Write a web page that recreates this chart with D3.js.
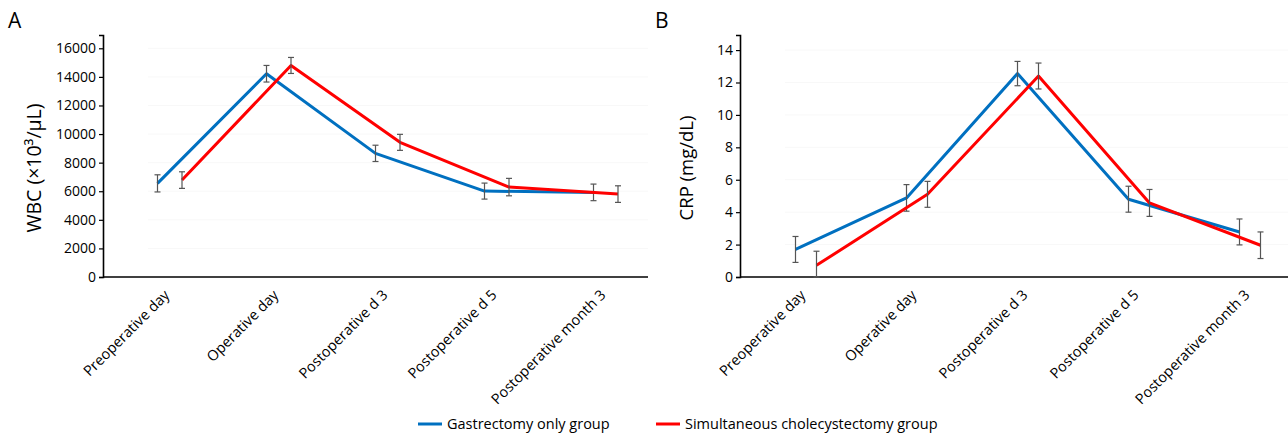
<!DOCTYPE html>
<html>
<head>
<meta charset="utf-8">
<script src="https://cdn.jsdelivr.net/npm/d3@7"></script>
<style>
  body { margin: 0; background: #fff; }
  svg text { font-family: "Open Sans", "Noto Sans", sans-serif; fill: #000; }
</style>
</head>
<body>
<div id="chart"></div>
<script>
// categories (time points)
var categories = ["Preoperative day", "Operative day", "Postoperative d 3", "Postoperative d 5", "Postoperative month 3"];
var seriesNames = ["Gastrectomy only group", "Simultaneous cholecystectomy group"];
var seriesColors = ["#0070c0", "#ff0000"];

// panel A: WBC
var wbcGastrectomy = [6550, 14220, 8650, 6010, 5920];
var wbcGastrectomyErr = [600, 580, 570, 560, 580];
var wbcCholecystectomy = [6780, 14800, 9420, 6290, 5800];
var wbcCholecystectomyErr = [580, 560, 560, 610, 580];
var wbcTicks = [0, 2000, 4000, 6000, 8000, 10000, 12000, 14000, 16000];

// panel B: CRP
var crpGastrectomy = [1.7, 4.88, 12.55, 4.8, 2.78];
var crpGastrectomyErr = [0.8, 0.82, 0.75, 0.8, 0.8];
var crpCholecystectomy = [0.72, 5.1, 12.4, 4.57, 1.96];
var crpCholecystectomyErr = [0.87, 0.8, 0.8, 0.83, 0.82];
var crpTicks = [0, 2, 4, 6, 8, 10, 12, 14];

var svg = d3.select("#chart").append("svg")
    .attr("width", 1288)
    .attr("height", 434);

function drawPanel(p) {
    var x = d3.scaleBand().domain(categories).range([p.left, p.right]);
    var y = d3.scaleLinear().domain([0, p.yMax]).range([p.bottom, p.top]);
    var g = svg.append("g");

    // faint gridlines
    g.selectAll(".grid")
      .data(p.ticks.slice(1))
      .enter().append("line")
        .attr("x1", p.left + 45)
        .attr("x2", p.right)
        .attr("y1", function(d) { return y(d); })
        .attr("y2", function(d) { return y(d); })
        .attr("stroke", "#f8f8f8")
        .attr("stroke-width", 1);

    // y axis
    var yAxis = g.append("g")
        .attr("transform", "translate(" + p.left + ",0)")
        .call(d3.axisLeft(y).tickValues(p.ticks).tickSize(4).tickPadding(3).tickFormat(d3.format("d")));
    yAxis.select(".domain").attr("stroke", "#000").attr("stroke-width", 1.6);
    yAxis.selectAll(".tick line").attr("stroke", "#000").attr("stroke-width", 1.2);
    yAxis.selectAll("text").style("font-size", "14px");

    // x axis line
    g.append("line")
        .attr("x1", p.left)
        .attr("x2", p.right)
        .attr("y1", y(0))
        .attr("y2", y(0))
        .attr("stroke", "#000")
        .attr("stroke-width", 1.6);

    // category labels
    g.selectAll(".cat")
      .data(categories)
      .enter().append("text")
        .attr("transform", function(d) {
            return "translate(" + (x(d) + x.bandwidth() / 2 + p.labelShift) + "," + (y(0) + 19) + ") rotate(-45)";
        })
        .style("text-anchor", "end")
        .style("font-size", "14.5px")
        .text(function(d) { return d; });

    // y title
    g.append("text")
        .attr("transform", "translate(" + p.titleX + "," + ((p.top + p.bottom) / 2 + 12) + ") rotate(-90)")
        .style("text-anchor", "middle")
        .style("font-size", p.titleSize)
        .text(p.title);

    // panel letter
    g.append("text")
        .attr("x", p.letterX)
        .attr("y", 28)
        .style("font-size", "21px")
        .text(p.letter);

    var line = d3.line()
        .x(function(d) { return d.x; })
        .y(function(d) { return y(d.v); });

    p.series.forEach(function(s, si) {
        var pts = categories.map(function(c, i) {
            return { x: x(c) + x.bandwidth() / 2 + si * p.dodge, v: s.values[i], e: s.errors[i] };
        });

        g.append("path")
            .datum(pts)
            .attr("fill", "none")
            .attr("stroke", seriesColors[si])
            .attr("stroke-width", 3)
            .attr("stroke-linejoin", "round")
            .attr("d", line);

        var eb = g.selectAll(".eb" + si)
          .data(pts)
          .enter().append("g")
            .attr("stroke", "#555")
            .attr("stroke-width", 1.2);
        eb.append("line")
            .attr("x1", function(d) { return d.x; })
            .attr("x2", function(d) { return d.x; })
            .attr("y1", function(d) { return y(d.v + d.e); })
            .attr("y2", function(d) { return y(Math.max(0, d.v - d.e)); });
        eb.append("line")
            .attr("x1", function(d) { return d.x - 3; })
            .attr("x2", function(d) { return d.x + 3; })
            .attr("y1", function(d) { return y(d.v + d.e); })
            .attr("y2", function(d) { return y(d.v + d.e); });
        eb.append("line")
            .attr("x1", function(d) { return d.x - 3; })
            .attr("x2", function(d) { return d.x + 3; })
            .attr("y1", function(d) { return y(Math.max(0, d.v - d.e)); })
            .attr("y2", function(d) { return y(Math.max(0, d.v - d.e)); });
    });
}

drawPanel({
    left: 103, right: 648, top: 35, bottom: 277, yMax: 16930,
    ticks: wbcTicks, dodge: 24.5, labelShift: 13,
    title: "WBC (\u00d710\u00b3/\u03bcL)", titleX: 41, titleSize: "19.5px",
    letter: "A", letterX: 8,
    series: [
        { values: wbcGastrectomy, errors: wbcGastrectomyErr },
        { values: wbcCholecystectomy, errors: wbcCholecystectomyErr }
    ]
});

drawPanel({
    left: 740, right: 1295, top: 35, bottom: 277, yMax: 14.93,
    ticks: crpTicks, dodge: 21, labelShift: 11,
    title: "CRP (mg/dL)", titleX: 693, titleSize: "18.5px",
    letter: "B", letterX: 655,
    series: [
        { values: crpGastrectomy, errors: crpGastrectomyErr },
        { values: crpCholecystectomy, errors: crpCholecystectomyErr }
    ]
});

// legend
var legend = svg.append("g").attr("transform", "translate(0,424)");
var legendX = [418, 656];
seriesNames.forEach(function(name, i) {
    legend.append("line")
        .attr("x1", legendX[i])
        .attr("x2", legendX[i] + 24)
        .attr("stroke", seriesColors[i])
        .attr("stroke-width", 3);
    legend.append("text")
        .attr("x", legendX[i] + 29)
        .attr("dy", "0.35em")
        .style("font-size", "14.5px")
        .text(name);
});
</script>
</body>
</html>
